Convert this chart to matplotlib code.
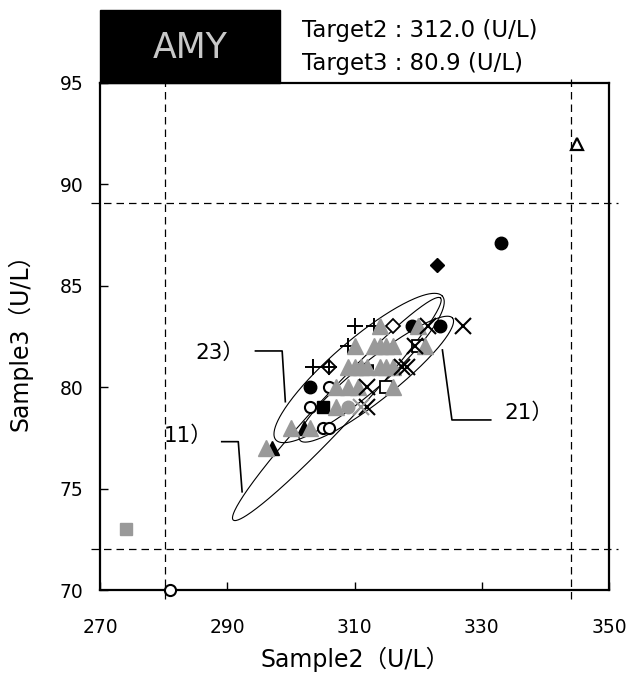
import numpy as np
import matplotlib
matplotlib.use("Agg")
import matplotlib.pyplot as plt
from matplotlib.patches import Rectangle

plt.rcParams['font.family'] = ['DejaVu Sans', 'Noto Sans CJK JP']

# Target values and acceptance limits
analyte = "AMY"
target2 = 312.0
target3 = 80.9
xlim_lo, xlim_hi = 280.1, 344.1
ylim_lo, ylim_hi = 72.0, 89.05

x_ticks = [270, 290, 310, 330, 350]
y_ticks = [70, 75, 80, 85, 90, 95]

# Reported results, grouped by marker style
gray_tri_x = [314, 320, 310, 313, 314, 315, 316, 321, 309, 310, 311, 312, 314, 315, 316,
              307, 309, 310.5, 316, 307, 300, 303, 296]
gray_tri_y = [83, 83, 82, 82, 82, 82, 82, 82, 81, 81, 81, 81, 81, 81, 81,
              80, 80, 80, 80, 79, 78, 78, 77]
black_tri_x = [297, 302]
black_tri_y = [77, 78]
open_tri_x = [345]
open_tri_y = [92]
black_circle_x = [319, 323.5, 303, 333]
black_circle_y = [83, 83, 80, 87.1]
open_circle_x = [306, 303, 305, 306, 281]
open_circle_y = [80, 79, 78, 78, 70]
gray_circle_x = [309]
gray_circle_y = [79]
plus_x = [310, 313, 309, 303.5, 306]
plus_y = [83, 83, 82, 81, 81]
cross_x = [327, 321.5, 317.5, 318.3, 312, 312, 319.5]
cross_y = [83, 83, 81, 81, 80, 79, 82]
gray_cross_x = [311]
gray_cross_y = [79]
open_diamond_x = [316, 306]
open_diamond_y = [83, 81]
black_diamond_x = [323]
black_diamond_y = [86]
black_square_x = [305]
black_square_y = [79]
open_square_x = [315, 320]
open_square_y = [80, 82]
gray_square_x = [274]
gray_square_y = [73]
dash_x = [311.5]
dash_y = [81]

# Group ellipses: centre, end of major axis, minor/major ratio
ellipse_labels = ["11）", "23）", "21）"]
ellipse_centers = [(307.2, 78.92), (310.7, 80.94), (313.4, 80.39)]
ellipse_tips = [(323.5, 84.39), (323.8, 84.48), (325.4, 83.4)]
ellipse_ratios = [0.11, 0.245, 0.2]

GRAY = "#999999"

fig = plt.figure(figsize=(6.29, 6.86), dpi=100)
ax = fig.add_axes([100.3 / 629, 96 / 686, 508.7 / 629, 507.3 / 686])
ax.set_xlim(270, 350)
ax.set_ylim(70, 95)
ax.set_xticks(x_ticks)
ax.set_yticks(y_ticks)
ax.tick_params(direction='in', length=6, width=1, labelsize=13.5)
ax.tick_params(axis='x', pad=20)
ax.tick_params(axis='y', pad=12)
for s in ax.spines.values():
    s.set_linewidth(1.6)

ax.set_xlabel("Sample2（U/L）", fontsize=17, labelpad=7)
ax.set_ylabel("Sample3（U/L）", fontsize=17, labelpad=20)

# Acceptance limit lines, extending slightly past the frame
dash = (0, (6, 4))
ext_x = 1.4
ext_y = 0.45
for xv in (xlim_lo, xlim_hi):
    ax.plot([xv, xv], [70 - ext_y, 95 + ext_y], color='black', lw=0.9,
            linestyle=dash, clip_on=False, zorder=1)
for yv in (ylim_lo, ylim_hi):
    ax.plot([270 - ext_x, 350 + ext_x], [yv, yv], color='black', lw=0.9,
            linestyle=dash, clip_on=False, zorder=1)

# Ellipses
fig.canvas.draw()
t = np.linspace(0, 2 * np.pi, 300)
for c, tip, r in zip(ellipse_centers, ellipse_tips, ellipse_ratios):
    cd = ax.transData.transform(c)
    pd_ = ax.transData.transform(tip)
    u = pd_ - cd
    v = np.array([-u[1], u[0]]) * r
    pts = cd + np.outer(np.cos(t), u) + np.outer(np.sin(t), v)
    d = ax.transData.inverted().transform(pts)
    ax.plot(d[:, 0], d[:, 1], color='black', lw=0.8, zorder=2)

# Markers
ms = dict(linestyle='none', zorder=3)
ax.plot(open_circle_x, open_circle_y, marker='o', ms=8, mfc='white', mec='black', mew=1.5, clip_on=False, **ms)
ax.plot(black_tri_x, black_tri_y, marker='^', ms=10, color='black', **ms)
ax.plot(black_circle_x, black_circle_y, marker='o', ms=9, color='black', **ms)
ax.plot(gray_circle_x, gray_circle_y, marker='o', ms=9, color=GRAY, **ms)
ax.plot(black_square_x, black_square_y, marker='s', ms=8, color='black', **ms)
ax.plot(open_square_x, open_square_y, marker='s', ms=8, mfc='white', mec='black', mew=1.3, **ms)
ax.plot(gray_square_x, gray_square_y, marker='s', ms=8, color=GRAY, **ms)
ax.plot(open_diamond_x, open_diamond_y, marker='D', ms=7, mfc='white', mec='black', mew=1.3, **ms)
ax.plot(black_diamond_x, black_diamond_y, marker='D', ms=7, color='black', **ms)
ax.plot(open_tri_x, open_tri_y, marker='^', ms=9, mfc='white', mec='black', mew=1.6, **ms)
ax.plot(plus_x, plus_y, marker='+', ms=12, color='black', mew=1.4, **ms)
ax.plot(dash_x, dash_y, marker='_', ms=14, color='black', mew=4, **ms)
ax.plot(gray_tri_x, gray_tri_y, marker='^', ms=11, color=GRAY, zorder=4, linestyle='none')
ax.plot(cross_x, cross_y, marker='x', ms=12, color='black', mew=1.5, zorder=5, linestyle='none')
ax.plot(gray_cross_x, gray_cross_y, marker='x', ms=12, color=GRAY, mew=1.5, zorder=5, linestyle='none')

# Ellipse labels with leader lines
def leader(label, pts, text_xy):
    px, py = zip(*pts)
    ax.plot(px, py, color='black', lw=1.2, zorder=2)
    ax.text(text_xy[0], text_xy[1], label, fontsize=15.5, ha='left', va='center')

leader(ellipse_labels[0], [(289.1, 77.31), (291.7, 77.31), (292.3, 74.84)], (279.9, 77.6))
leader(ellipse_labels[1], [(294.4, 81.78), (298.6, 81.78), (299.1, 79.28)], (284.9, 81.7))
leader(ellipse_labels[2], [(323.8, 81.83), (325.3, 78.38), (331.4, 78.38)], (333.6, 78.72))

# Header box and target values
ax.add_patch(Rectangle((0, 1), 0.353, 0.143, transform=ax.transAxes,
                       facecolor='black', edgecolor='black', clip_on=False, zorder=6))
ax.text(0.177, 1.068, analyte, transform=ax.transAxes, color='#c8c8c8',
        fontsize=25, ha='center', va='center', zorder=7)
ax.text(0.3965, 1.102, f"Target2 : {target2:.1f} (U/L)", transform=ax.transAxes,
        fontsize=16.5, ha='left', va='center')
ax.text(0.3965, 1.037, f"Target3 : {target3:.1f} (U/L)", transform=ax.transAxes,
        fontsize=16.5, ha='left', va='center')

fig.savefig("out.png", dpi=100)
